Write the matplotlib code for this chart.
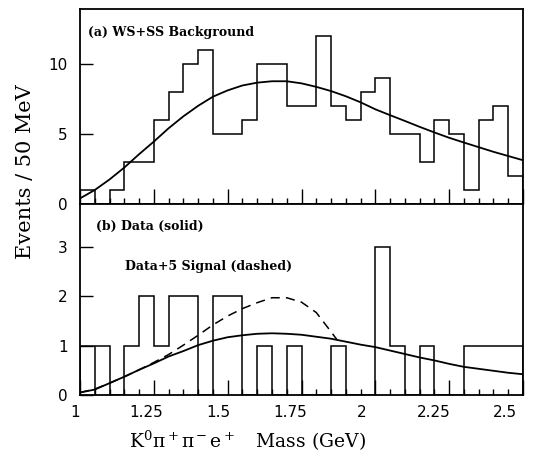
"""
K0 pi+ pi- e+ mass spectrum, background vs data
"""
import numpy as np
import matplotlib
matplotlib.use('Agg')
from matplotlib import pyplot as plt
from matplotlib import transforms
from matplotlib.ticker import MultipleLocator

# bin edges, 50 MeV bins from 1.0 to 2.5 GeV
edges = np.round(np.arange(1.0, 2.5001, 0.05), 3)

# (a) WS+SS background counts per bin
bkg_counts = [1, 0, 1, 3, 3, 6, 8, 10, 11, 5, 5, 6, 10, 10, 7,
              7, 12, 7, 6, 8, 9, 5, 5, 3, 6, 5, 1, 6, 7, 2]
# (b) data counts per bin
data_counts = [1, 1, 0, 1, 2, 1, 2, 2, 0, 2, 2, 0, 1, 0, 1,
               0, 0, 1, 0, 0, 3, 1, 0, 1, 0, 0, 1, 1, 1, 1]

# fitted shapes
curve_mass = [1.00, 1.05, 1.10, 1.15, 1.20, 1.25, 1.30, 1.35, 1.40, 1.45, 1.50,
              1.55, 1.60, 1.65, 1.70, 1.75, 1.80, 1.85, 1.90, 1.95, 2.00,
              2.05, 2.10, 2.15, 2.20, 2.25, 2.30, 2.35, 2.40, 2.45, 2.50]
bkg_fit = [0.40, 1.00, 1.75, 2.60, 3.55, 4.45, 5.40, 6.25, 7.00, 7.65, 8.10,
           8.45, 8.65, 8.75, 8.75, 8.60, 8.35, 8.05, 7.68, 7.25, 6.75,
           6.33, 5.92, 5.50, 5.10, 4.72, 4.38, 4.05, 3.72, 3.42, 3.12]
data_fit = [0.05, 0.11, 0.24, 0.37, 0.51, 0.64, 0.78, 0.89, 1.01, 1.10, 1.17,
            1.21, 1.24, 1.25, 1.24, 1.22, 1.18, 1.14, 1.08, 1.02, 0.97,
            0.90, 0.83, 0.76, 0.70, 0.63, 0.57, 0.53, 0.49, 0.45, 0.42]
sig_mass = [1.00, 1.05, 1.10, 1.15, 1.20, 1.25, 1.30, 1.35, 1.40, 1.45, 1.50,
            1.55, 1.60, 1.65, 1.70, 1.75, 1.80, 1.85, 1.87]
sig_fit = [0.05, 0.12, 0.24, 0.37, 0.51, 0.66, 0.82, 1.01, 1.21, 1.42, 1.60,
           1.75, 1.87, 1.97, 1.97, 1.88, 1.67, 1.28, 1.12]

mass_ticks = [1, 1.25, 1.5, 1.75, 2, 2.25, 2.5]
mass_labels = ['1', '1.25', '1.5', '1.75', '2', '2.25', '2.5']

plt.rcParams['font.family'] = 'DejaVu Serif'
plt.rcParams['mathtext.fontset'] = 'dejavuserif'

fig = plt.figure(figsize=(5.36, 4.57), dpi=100)
ax1 = fig.add_axes([0.1493, 0.5536, 0.8265, 0.4267])
ax2 = fig.add_axes([0.1493, 0.1357, 0.8265, 0.4180])


def style_axis(ax, ymax, ystep):
    ax.set_xlim(1.0, 2.5)
    ax.set_ylim(0, ymax)
    ax.set_xticks(mass_ticks)
    ax.xaxis.set_minor_locator(MultipleLocator(0.05))
    ax.yaxis.set_major_locator(MultipleLocator(ystep))
    ax.tick_params(axis='x', which='major', direction='in', length=10.5, width=1.0,
                   top=False, labelbottom=False)
    ax.tick_params(axis='x', which='minor', direction='in', length=4, width=1.0, top=False)
    ax.tick_params(axis='y', which='major', direction='in', length=9.5, width=1.0,
                   right=False, pad=9, labelsize=11)
    for lab in ax.get_yticklabels():
        lab.set_family('DejaVu Sans')
    for sp in ax.spines.values():
        sp.set_linewidth(1.3)


# top panel
ax1.stairs(bkg_counts, edges, color='black', lw=1.1)
ax1.plot(curve_mass, bkg_fit, color='black', lw=1.3)
style_axis(ax1, 13.9, 5)
ax1.text(0.018, 0.882, '(a) WS+SS Background', transform=ax1.transAxes,
         fontsize=9, fontweight='bold', va='center')

# bottom panel
ax2.stairs(data_counts, edges, color='black', lw=1.1)
ax2.vlines(edges[1], 0, min(data_counts[0], data_counts[1]), color='black', lw=1.1)
ax2.plot(curve_mass, data_fit, color='black', lw=1.3)
ax2.plot(sig_mass, sig_fit, color='black', lw=1.1, dashes=(6, 4))
style_axis(ax2, 3.87, 1)
ax2.text(0.035, 0.880, '(b) Data (solid)', transform=ax2.transAxes,
         fontsize=9, fontweight='bold', va='center')
ax2.text(0.102, 0.670, 'Data+5 Signal (dashed)', transform=ax2.transAxes,
         fontsize=9, fontweight='bold', va='center')

# x tick labels sit a little left of their ticks in the original
base = transforms.blended_transform_factory(ax2.transData, ax2.transAxes)
for v, s in zip(mass_ticks, mass_labels):
    shift = -(5 + 8.7 * (v - 1)) * 0.72 / 72
    tr = base + transforms.ScaledTranslation(shift, 0, fig.dpi_scale_trans)
    ax2.text(v, -0.094, s, transform=tr, ha='center', va='center',
             fontsize=11, family='DejaVu Sans')

ax2.set_xlabel(r'$\mathrm{K^0\pi^+\pi^-e^+}$   Mass (GeV)', fontsize=13.5, va='center')
ax2.xaxis.set_label_coords(0.377, -0.241)

fig.text(0.047, 1 - 172 / 457, 'Events / 50 MeV', rotation=90,
         fontsize=15, ha='center', va='center')

plt.savefig('out.png', dpi=100)
